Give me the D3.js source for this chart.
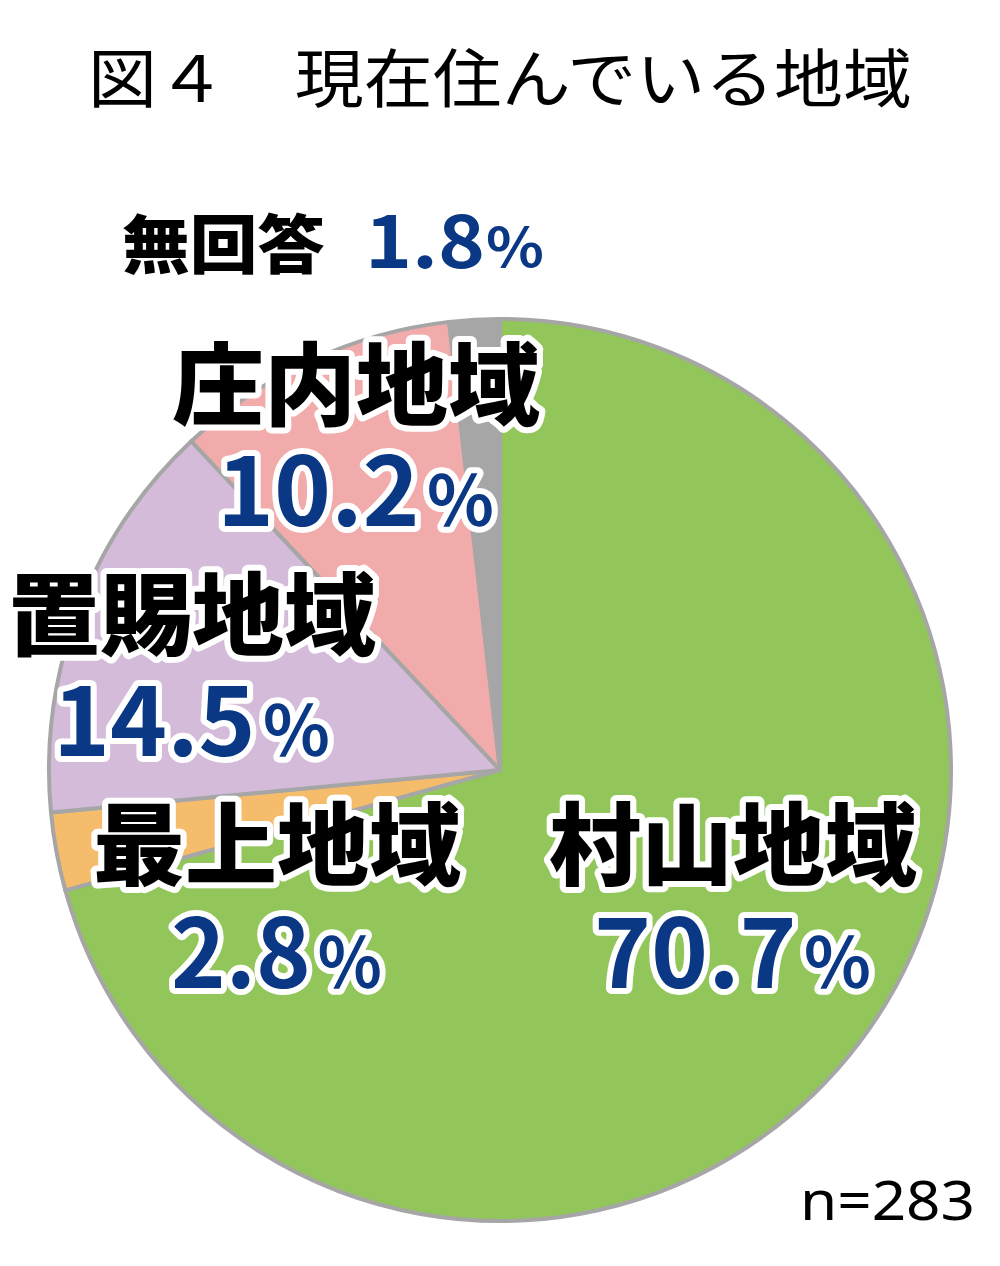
<!DOCTYPE html>
<html><head><meta charset="utf-8">
<script src="https://cdn.jsdelivr.net/npm/d3@7"></script>
<style>
body{margin:0;background:#fff;}
svg{display:block;}
</style></head>
<body>
<svg id="chart" width="1000" height="1266"></svg>
<script>
const categories = ["村山地域", "最上地域", "置賜地域", "庄内地域", "無回答"];
const values = [70.7, 2.8, 14.5, 10.2, 1.8];
const colors = ["#92C65A", "#F5BC6B", "#D4BBDA", "#F2ABAB", "#A6A6A6"];
const title = "図４　現在住んでいる地域";
const note = "n=283";

// label layout (name box centre x, name baseline, value baseline)
const labelLayout = [
  {x: 733, ny: 878, vy: 988, inline: false},
  {x: 277, ny: 878, vy: 988, inline: false},
  {x: 192, ny: 648, vy: 756, inline: false},
  {x: 356, ny: 418, vy: 526, inline: false},
  {x: 122, ny: 268, vy: 268, inline: true}
];

const svg = d3.select("#chart");
const cx = 500, cy = 770, r = 451;

const pie = d3.pie().sort(null).value(d => d.v);
const arc = d3.arc().innerRadius(0).outerRadius(r);
const data = categories.map((c, i) => ({c, v: values[i], col: colors[i], i}));

const g = svg.append("g").attr("transform", `translate(${cx},${cy})`);
g.selectAll("path").data(pie(data)).join("path")
  .attr("d", arc)
  .attr("fill", d => d.data.col)
  .attr("stroke", "#A6A6A6")
  .attr("stroke-width", 4)
  .attr("stroke-linejoin", "round");

// title
svg.append("text")
  .attr("x", 88).attr("y", 102)
  .attr("font-family", "'Noto Sans CJK JP'")
  .attr("font-size", 64)
  .attr("fill", "#000")
  .attr("textLength", 824)
  .attr("lengthAdjust", "spacingAndGlyphs")
  .text(title);

// n
svg.append("text")
  .attr("x", 800).attr("y", 1220)
  .attr("font-family", "'Noto Sans', 'DejaVu Sans'")
  .attr("font-size", 54)
  .attr("fill", "#000")
  .attr("textLength", 175)
  .attr("lengthAdjust", "spacingAndGlyphs")
  .text(note);

const fontJP = "'Noto Sans CJK JP'";
const blue = "#0A3885";

data.forEach((d, i) => {
  const L = labelLayout[i];
  if (L.inline) {
    svg.append("text")
      .attr("x", L.x).attr("y", L.ny)
      .attr("font-family", fontJP).attr("font-weight", 900)
      .attr("font-size", 64).attr("fill", "#000")
      .attr("textLength", 203).attr("lengthAdjust", "spacingAndGlyphs")
      .text(d.c);
    const t = svg.append("text")
      .attr("x", 365).attr("y", L.vy)
      .attr("font-family", fontJP).attr("font-weight", 700)
      .attr("fill", blue)
      .attr("textLength", 180).attr("lengthAdjust", "spacingAndGlyphs");
    t.append("tspan").attr("font-size", 72).text(d3.format(".1f")(d.v));
    t.append("tspan").attr("font-size", 54).text("％");
    return;
  }
  svg.append("text")
    .attr("x", L.x).attr("y", L.ny)
    .attr("text-anchor", "middle")
    .attr("font-family", fontJP).attr("font-weight", 900)
    .attr("font-size", 90).attr("fill", "#000")
    .attr("stroke", "#fff").attr("stroke-width", 12)
    .attr("stroke-linejoin", "round")
    .attr("paint-order", "stroke")
    .attr("textLength", 368).attr("lengthAdjust", "spacingAndGlyphs")
    .text(d.c);
  const t = svg.append("text")
    .attr("x", L.x).attr("y", L.vy)
    .attr("text-anchor", "middle")
    .attr("font-family", fontJP).attr("font-weight", 700)
    .attr("fill", blue)
    .attr("stroke", "#fff").attr("stroke-width", 12)
    .attr("stroke-linejoin", "round")
    .attr("paint-order", "stroke");
  const num = d3.format(".1f")(d.v);
  t.append("tspan").attr("font-size", 95).text(num);
  t.append("tspan").attr("font-size", 68).attr("dx", 6).text("％");
  const len = num.length === 3 ? 212 : 278;
  t.attr("textLength", len).attr("lengthAdjust", "spacingAndGlyphs");
});
</script>
</body></html>
